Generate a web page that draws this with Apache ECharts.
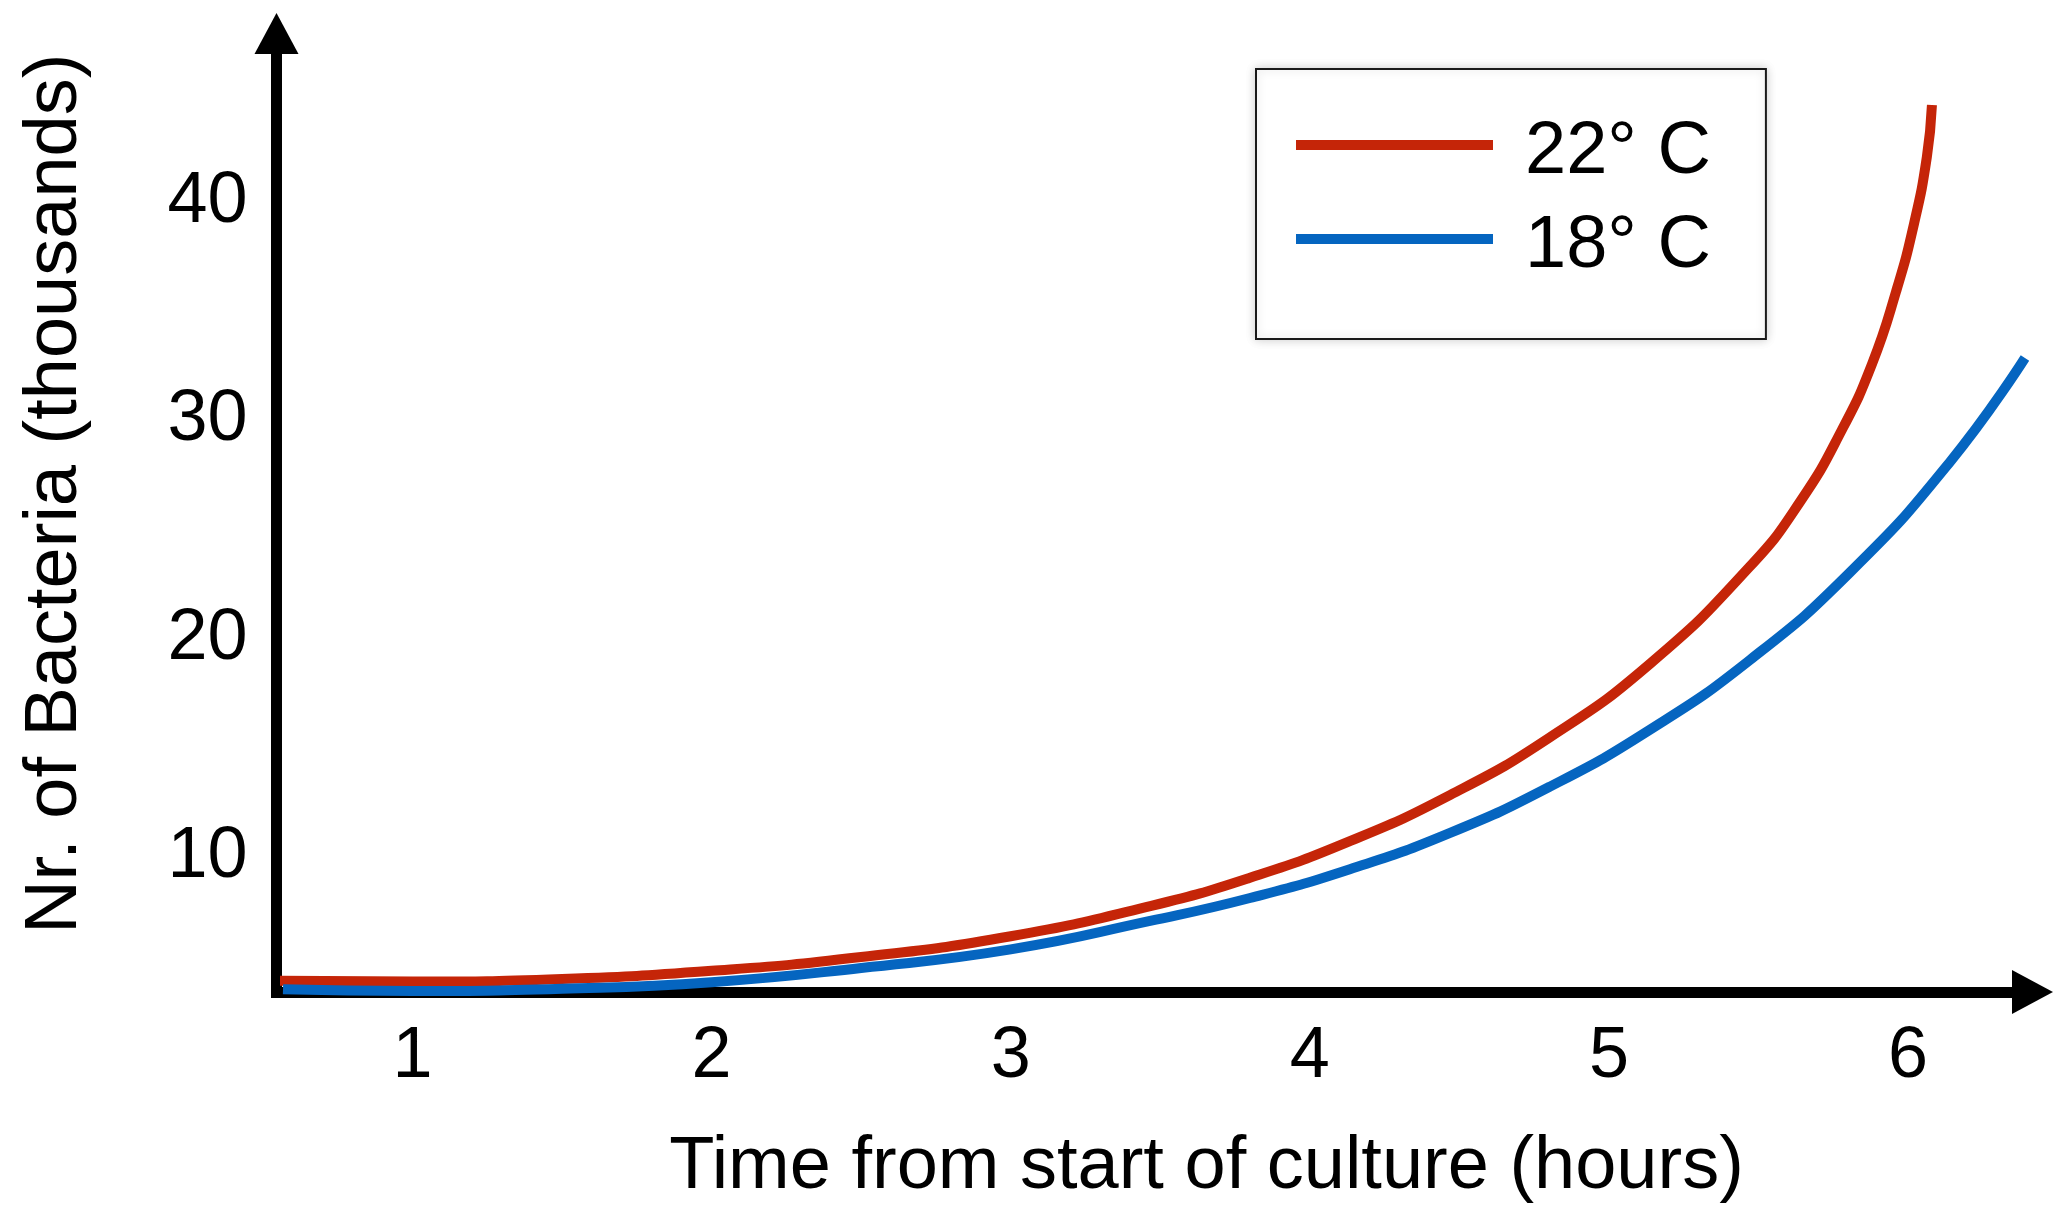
<!DOCTYPE html>
<html>
<head>
<meta charset="utf-8">
<script src="https://cdn.jsdelivr.net/npm/echarts@6/dist/echarts.min.js"></script>
<style>
  html, body { margin: 0; padding: 0; background: #ffffff; }
  #chart { width: 2053px; height: 1209px; }
</style>
</head>
<body>
<div id="chart"></div>
<script>
// ---- data ----
const seriesNames = ['22° C', '18° C'];
const xTickLabels = [1, 2, 3, 4, 5, 6];
const yTickLabels = [10, 20, 30, 40];

const hours22 = [0.557, 1.0, 1.5, 2.0, 2.5, 3.0, 3.47, 3.80, 4.13, 4.47, 4.80, 5.14, 5.47, 5.64, 5.78, 5.88, 5.96, 6.02, 6.063, 6.08];
const bacteria22 = [4.36, 4.33, 4.45, 4.82, 5.45, 6.40, 7.79, 9.08, 10.73, 12.87, 15.48, 18.90, 23.30, 26.30, 29.60, 32.60, 35.90, 39.00, 42.06, 44.44];

const hours18 = [0.567, 1.0, 1.5, 2.0, 2.5, 3.0, 3.466, 3.80, 4.134, 4.469, 4.803, 5.137, 5.472, 5.806, 6.14, 6.391];
const bacteria18 = [3.98, 3.90, 4.00, 4.30, 4.95, 5.80, 7.10, 8.15, 9.47, 11.13, 13.25, 15.85, 19.05, 23.05, 28.10, 32.86];

const colors = ['#C52508', '#0565C0'];
const FONT = '"Liberation Sans", Arial, Helvetica, sans-serif';

function pairs(xs, ys) { return xs.map((x, i) => [x, ys[i]]); }

const chart = echarts.init(document.getElementById('chart'), null, { renderer: 'canvas' });

const axisLine = {
  show: true,
  symbol: ['none', 'triangle'],
  symbolSize: [44, 41],
  lineStyle: { color: '#000000', width: 11, cap: 'square' }
};

chart.setOption({
  animation: false,
  backgroundColor: '#ffffff',
  textStyle: { fontFamily: FONT },
  grid: { left: 276.5, right: 20.5, top: 33.5, bottom: 217, containLabel: false, outerBoundsMode: 'none' },
  legend: {
    data: seriesNames,
    orient: 'vertical',
    left: 1256,
    top: 69,
    padding: [31, 55, 55, 40],
    itemGap: 4,
    itemWidth: 197,
    itemHeight: 10,
    icon: 'rect',
    backgroundColor: '#ffffff',
    borderColor: '#1a1a1a',
    borderWidth: 2,
    shadowBlur: 10,
    shadowColor: 'rgba(0,0,0,0.18)',
    formatter: function (name) { return '{t|' + name + '}'; },
    textStyle: {
      fontSize: 74, color: '#000000', fontFamily: FONT,
      rich: { t: { fontSize: 74, lineHeight: 70, color: '#000000', fontFamily: FONT, padding: [16, 0, 0, 27] } }
    }
  },
  xAxis: {
    type: 'value',
    min: 0.5453,
    max: 6.4162,
    name: 'Time from start of culture (hours)',
    nameLocation: 'middle',
    nameGap: 139,
    nameTextStyle: { fontSize: 74, lineHeight: 74, color: '#000000', fontFamily: FONT, padding: [0, 0, 0, 104] },
    axisLine: axisLine,
    axisTick: { show: false },
    splitLine: { show: false },
    axisLabel: {
      customValues: xTickLabels,
      fontSize: 72, lineHeight: 72, color: '#000000', fontFamily: FONT, margin: 29
    }
  },
  yAxis: {
    type: 'value',
    min: 3.85,
    max: 47.71,
    name: 'Nr. of Bacteria (thousands)',
    nameLocation: 'middle',
    nameRotate: 90,
    nameGap: 184,
    nameTextStyle: { fontSize: 74, lineHeight: 74, color: '#000000', fontFamily: FONT, padding: [0, 0, 0, 38] },
    axisLine: axisLine,
    axisTick: { show: false },
    splitLine: { show: false },
    axisLabel: {
      customValues: yTickLabels,
      fontSize: 72, lineHeight: 72, color: '#000000', fontFamily: FONT, margin: 29
    }
  },
  series: [
    {
      name: seriesNames[0],
      type: 'line',
      data: pairs(hours22, bacteria22),
      smooth: 0.5,
      symbol: 'none',
      clip: false,
      color: colors[0],
      lineStyle: { color: colors[0], width: 10 }
    },
    {
      name: seriesNames[1],
      type: 'line',
      data: pairs(hours18, bacteria18),
      smooth: 0.5,
      symbol: 'none',
      clip: false,
      color: colors[1],
      lineStyle: { color: colors[1], width: 10 }
    }
  ]
});
</script>
</body>
</html>
